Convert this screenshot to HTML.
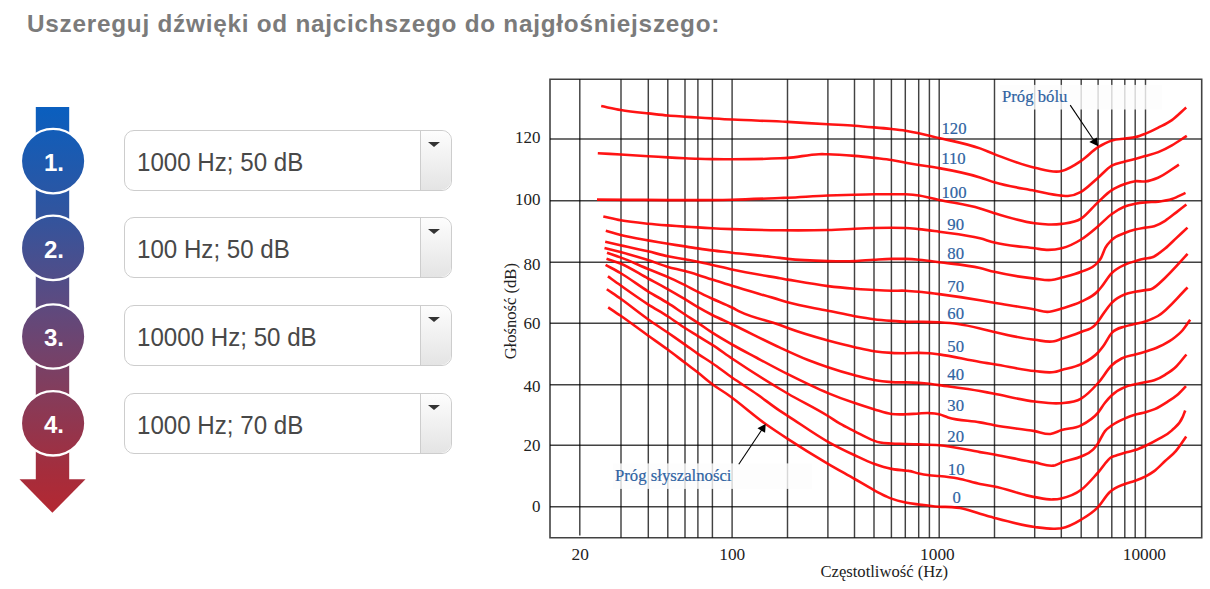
<!DOCTYPE html>
<html><head><meta charset="utf-8">
<style>
html,body{margin:0;padding:0;background:#fff;}
body{width:1210px;height:589px;position:relative;overflow:hidden;font-family:"Liberation Sans",sans-serif;}
.title{position:absolute;left:27px;top:6.5px;font-weight:bold;font-size:24.3px;color:#7b7b7b;letter-spacing:0.76px;white-space:nowrap;line-height:34px;}
.sel{position:absolute;left:124px;width:326px;height:59px;border:1px solid #cdcdcd;border-radius:10px;background:#fff;box-sizing:content-box;}
.sel .lab{position:absolute;left:12px;top:1.8px;line-height:59px;font-size:25.4px;color:#484848;white-space:nowrap;transform:scale(0.95,1);transform-origin:0 50%;}
.sel .btn{position:absolute;right:0;top:0;width:30px;height:59px;border-left:1px solid #cdcdcd;border-radius:0 10px 10px 0;background:linear-gradient(#fdfdfd,#e4e4e4);}
.sel .btn i{position:absolute;left:6.5px;top:11px;width:0;height:0;border-left:6px solid transparent;border-right:6px solid transparent;border-top:5.5px solid #333;}
svg{position:absolute;left:0;top:0;}
</style></head><body>
<div class="title">Uszereguj dźwięki od najcichszego do najgłośniejszego:</div>
<svg width="1210" height="589" viewBox="0 0 1210 589">
<defs><linearGradient id="g" gradientUnits="userSpaceOnUse" x1="0" y1="107" x2="0" y2="513">
<stop offset="0" stop-color="#0a5fbf"/><stop offset="0.25" stop-color="#2f55a0"/><stop offset="0.47" stop-color="#5a4b82"/><stop offset="0.68" stop-color="#803e5f"/><stop offset="0.9" stop-color="#a52d3c"/><stop offset="1" stop-color="#b42832"/>
</linearGradient></defs>
<rect x="35.8" y="107" width="33.4" height="373" fill="url(#g)"/>
<path d="M19.5 479.3H85.5L52.4 512.8Z" fill="url(#g)"/>
<g font-family="Liberation Sans" font-weight="bold" font-size="24" fill="#fff" text-anchor="middle">
<circle cx="53.1" cy="161.1" r="32.2" fill="url(#g)" stroke="#fff" stroke-width="2.3"/>
<text x="54" y="170.9">1.</text>
<circle cx="53.1" cy="247.9" r="32.2" fill="url(#g)" stroke="#fff" stroke-width="2.3"/>
<text x="54" y="257.7">2.</text>
<circle cx="53.1" cy="336.5" r="32.2" fill="url(#g)" stroke="#fff" stroke-width="2.3"/>
<text x="54" y="346.3">3.</text>
<circle cx="53.1" cy="423.3" r="32.2" fill="url(#g)" stroke="#fff" stroke-width="2.3"/>
<text x="54" y="433.1">4.</text>
</g>
<g fill="none" stroke="#000" stroke-opacity="0.74" stroke-width="1.45">
<path d="M579.8 79.2V535.6M621.0 79.2V537.8M648.3 79.2V537.8M667.8 79.2V537.8M685.0 79.2V537.8M697.9 79.2V537.8M712.4 79.2V537.8M732.1 79.2V537.8M787.5 79.2V537.8M827.9 79.2V537.8M854.5 79.2V537.8M874.0 79.2V537.8M891.4 79.2V537.8M905.3 79.2V537.8M918.7 79.2V537.8M929.4 79.2V537.8M939.2 79.2V537.8M994.5 79.2V537.8M1034.7 79.2V537.8M1061.3 79.2V537.8M1081.2 79.2V537.8M1098.1 79.2V537.8M1111.8 79.2V537.8M1124.8 79.2V537.8M1135.2 79.2V537.8M1145.5 79.2V537.8"/>
<path d="M550.0 138.9H1201.7M550.0 200.8H1201.7M550.0 262.2H1201.7M550.0 323.2H1201.7M550.0 384.8H1201.7M550.0 445.2H1201.7M550.0 506.7H1201.7"/>
<path d="M550.0 79.2H1201.7V537.8H550.0Z" stroke-width="1.6"/>
</g>
<rect x="613" y="463.4" width="199" height="25.5" fill="#fcfcfc" fill-opacity="0.8"/>
<rect x="999.9" y="84.9" width="162.2" height="24.6" fill="#fcfcfc" fill-opacity="0.8"/>
<g fill="none" stroke="#ff0000" stroke-opacity="0.92" stroke-width="2.6" stroke-linejoin="round" stroke-linecap="butt">
<path d="M601.2 106.1C607.7 107.4 614.2 108.9 620.7 110.0C629.9 111.5 639.1 112.4 648.3 113.4C654.8 114.1 661.4 114.9 667.9 115.5C673.5 116.0 679.2 116.3 684.8 116.7C689.1 117.0 693.4 117.2 697.7 117.5C702.6 117.8 707.4 118.1 712.3 118.4C719.0 118.8 725.6 119.2 732.3 119.5C750.7 120.5 769.2 120.9 787.6 121.9C801.1 122.6 814.5 123.6 828.0 124.3C836.9 124.8 845.8 125.0 854.7 125.7C861.1 126.2 867.5 126.8 873.9 127.4C879.8 127.9 885.6 128.4 891.5 129.0C896.2 129.5 900.9 130.0 905.6 130.7C910.0 131.4 914.5 132.3 918.9 133.3C922.4 134.1 925.9 135.0 929.4 135.8C932.6 136.6 935.9 137.2 939.1 138.0C952.7 141.2 966.4 143.5 980.0 148.4C984.8 150.1 989.5 152.3 994.3 154.1C1007.8 159.2 1021.2 164.9 1034.7 167.7C1043.7 169.6 1052.6 173.3 1061.6 171.1C1068.1 169.5 1074.6 165.3 1081.1 160.9C1086.8 157.1 1092.4 150.8 1098.1 147.2C1102.7 144.3 1107.4 141.8 1112.0 140.4C1116.4 139.0 1120.7 139.1 1125.1 138.5C1128.6 138.0 1132.1 138.0 1135.6 137.1C1138.9 136.3 1142.3 134.9 1145.6 133.6C1149.8 131.9 1154.1 129.8 1158.3 127.6C1162.8 125.3 1167.4 123.3 1171.9 120.1C1176.7 116.7 1181.4 111.7 1186.2 107.5"/>
<path d="M597.8 153.2C605.4 153.6 613.1 154.0 620.7 154.5C629.9 155.0 639.1 155.6 648.3 156.2C654.8 156.6 661.4 157.0 667.9 157.4C673.5 157.7 679.2 158.0 684.8 158.3C689.1 158.5 693.4 158.7 697.7 158.8C702.6 158.9 707.4 159.0 712.3 159.1C719.0 159.2 725.6 159.3 732.3 159.3C748.2 159.3 764.1 159.1 780.0 158.3C782.5 158.2 785.1 158.1 787.6 157.9C798.1 157.2 808.5 154.5 819.0 154.2C822.0 154.1 825.0 154.2 828.0 154.2C836.9 154.3 845.8 155.1 854.7 155.9C861.1 156.5 867.5 157.2 873.9 157.9C879.8 158.6 885.6 159.1 891.5 160.0C896.2 160.7 900.9 161.8 905.6 162.7C910.0 163.5 914.5 164.3 918.9 165.0C925.6 166.1 932.4 166.9 939.1 168.1C952.7 170.5 966.4 173.1 980.0 177.4C984.8 178.9 989.5 180.8 994.3 182.3C1007.8 186.4 1021.2 188.1 1034.7 190.7C1043.7 192.4 1052.6 194.8 1061.6 195.6C1063.7 195.8 1065.8 196.1 1067.9 196.0C1072.3 195.7 1076.7 194.2 1081.1 191.8C1086.8 188.7 1092.4 182.5 1098.1 177.7C1102.7 173.8 1107.2 168.4 1111.8 165.7C1116.1 163.2 1120.5 162.8 1124.8 161.6C1128.3 160.6 1131.7 159.8 1135.2 158.9C1138.5 158.0 1141.8 157.1 1145.1 156.1C1149.5 154.8 1153.9 153.9 1158.3 152.1C1162.8 150.3 1167.4 147.9 1171.9 145.3C1176.9 142.5 1181.8 139.0 1186.8 135.8"/>
<path d="M597.0 199.6C642.0 199.6 687.0 200.9 732.0 199.7C748.0 199.3 764.0 198.6 780.0 198.0C782.5 197.9 785.1 197.8 787.6 197.7C801.1 197.1 814.5 196.0 828.0 195.5C836.9 195.2 845.8 195.0 854.7 194.8C861.1 194.6 867.5 194.4 873.9 194.3C879.8 194.2 885.6 194.3 891.5 194.3C896.2 194.3 900.9 194.1 905.6 194.3C910.0 194.5 914.5 194.8 918.9 195.5C922.4 196.0 925.9 196.9 929.4 197.7C932.6 198.4 935.9 199.2 939.1 199.9C952.7 202.9 966.4 204.3 980.0 208.4C984.8 209.8 989.5 211.7 994.3 213.2C1007.8 217.4 1021.2 221.6 1034.7 223.3C1039.2 223.9 1043.8 224.4 1048.3 224.5C1052.7 224.6 1057.2 224.5 1061.6 223.9C1068.1 223.0 1074.6 222.9 1081.1 218.7C1086.8 215.0 1092.4 207.3 1098.1 202.1C1102.7 197.9 1107.2 193.2 1111.8 190.2C1116.1 187.3 1120.5 185.6 1124.8 184.0C1128.3 182.7 1131.7 181.6 1135.2 181.2C1138.5 180.8 1141.8 181.9 1145.1 181.5C1149.4 181.0 1153.7 179.5 1158.0 177.7C1165.0 174.8 1171.9 169.0 1178.9 164.6"/>
<path d="M603.3 216.4C609.1 217.7 614.9 219.2 620.7 220.3C629.9 222.0 639.1 222.8 648.3 223.7C654.8 224.4 661.4 224.9 667.9 225.4C673.5 225.8 679.2 226.2 684.8 226.6C689.1 226.9 693.4 227.1 697.7 227.4C702.6 227.7 707.4 228.0 712.3 228.3C719.0 228.7 725.6 228.9 732.3 229.1C748.2 229.7 764.1 230.1 780.0 230.3C796.0 230.5 812.0 230.5 828.0 230.0C836.9 229.7 845.8 229.2 854.7 228.8C861.1 228.5 867.5 228.2 873.9 228.0C879.8 227.8 885.6 227.8 891.5 227.8C896.2 227.8 900.9 227.8 905.6 228.0C910.0 228.2 914.5 228.7 918.9 229.1C925.6 229.8 932.4 230.8 939.1 231.7C952.7 233.6 966.4 234.8 980.0 238.3C984.8 239.5 989.5 241.3 994.3 242.5C1007.8 245.9 1021.2 246.6 1034.7 248.3C1039.2 248.9 1043.8 249.9 1048.3 249.9C1052.7 249.9 1057.2 249.4 1061.6 248.3C1068.1 246.6 1074.6 243.6 1081.1 239.5C1086.8 235.9 1092.4 231.0 1098.1 226.2C1102.7 222.4 1107.2 217.3 1111.8 214.0C1116.1 210.8 1120.5 208.2 1124.8 206.5C1128.3 205.1 1131.7 204.5 1135.2 203.8C1138.5 203.1 1141.8 202.7 1145.1 202.4C1149.5 201.9 1153.9 202.2 1158.3 201.7C1162.8 201.1 1167.4 200.5 1171.9 199.0C1176.4 197.5 1181.0 194.9 1185.5 192.9"/>
<path d="M605.8 230.8C610.8 232.2 615.7 233.8 620.7 235.1C629.8 237.4 638.9 238.8 648.0 240.4C654.7 241.6 661.3 242.7 668.0 243.8C673.7 244.7 679.3 245.5 685.0 246.4C689.3 247.1 693.6 247.8 697.9 248.4C702.7 249.1 707.5 249.8 712.3 250.4C718.9 251.3 725.4 251.9 732.0 252.7C748.0 254.5 764.0 255.8 780.0 257.9C782.5 258.2 785.1 258.6 787.6 258.9C801.1 260.5 814.5 260.8 828.0 261.1C836.9 261.3 845.8 261.5 854.7 261.1C861.1 260.8 867.5 260.1 873.9 259.7C879.8 259.4 885.6 259.0 891.5 258.9C896.2 258.8 900.9 258.8 905.6 258.9C910.0 259.0 914.5 259.3 918.9 259.7C925.6 260.3 932.4 261.3 939.1 262.2C952.7 264.0 966.4 264.8 980.0 268.0C984.8 269.1 989.5 270.7 994.3 271.8C1007.8 275.0 1021.2 277.1 1034.7 278.6C1040.2 279.2 1045.8 280.6 1051.3 280.0C1054.7 279.6 1058.2 278.5 1061.6 277.6C1068.1 275.9 1074.6 274.7 1081.1 271.8C1086.8 269.3 1092.4 269.2 1098.1 262.0C1099.1 260.8 1100.0 259.7 1101.0 258.0C1102.4 255.5 1103.9 250.6 1105.3 247.9C1107.5 243.8 1109.6 242.0 1111.8 239.8C1116.1 235.4 1120.5 234.8 1124.8 233.0C1128.3 231.6 1131.7 230.5 1135.2 229.6C1138.5 228.7 1141.8 228.2 1145.1 227.6C1148.1 227.1 1151.2 227.1 1154.2 226.2C1157.8 225.1 1161.5 223.1 1165.1 220.8C1168.7 218.5 1172.4 215.4 1176.0 212.6C1179.5 209.9 1182.9 207.2 1186.4 204.5"/>
<path d="M605.2 241.8C610.3 242.9 615.3 244.1 620.4 245.2C629.6 247.2 638.8 249.1 648.0 251.3C654.7 252.9 661.3 254.9 668.0 256.3C673.7 257.5 679.3 258.1 685.0 259.2C689.3 260.0 693.6 260.9 697.9 261.8C702.7 262.8 707.5 263.8 712.3 264.9C718.9 266.4 725.4 268.1 732.0 269.5C748.0 273.0 764.0 275.5 780.0 278.3C782.5 278.7 785.1 279.2 787.6 279.6C801.1 281.9 814.5 284.4 828.0 286.1C836.9 287.2 845.8 288.0 854.7 288.7C861.1 289.2 867.5 289.7 873.9 290.0C879.8 290.3 885.6 290.6 891.5 290.7C896.2 290.8 900.9 290.5 905.6 290.7C910.0 290.9 914.5 291.3 918.9 291.7C922.4 292.0 925.9 292.5 929.4 292.9C932.6 293.3 935.9 293.7 939.1 294.1C952.7 295.9 966.4 297.9 980.0 300.2C984.8 301.0 989.5 301.9 994.3 302.7C1007.8 305.0 1021.2 307.0 1034.7 309.5C1038.9 310.3 1043.2 312.0 1047.4 311.9C1052.1 311.8 1056.9 309.9 1061.6 308.5C1068.1 306.6 1074.6 305.0 1081.1 301.7C1086.7 298.9 1092.4 297.1 1098.0 291.0C1099.0 289.9 1100.0 288.7 1101.0 287.5C1104.6 283.2 1108.1 276.8 1111.7 273.1C1116.2 268.5 1120.6 266.7 1125.1 264.6C1128.4 263.1 1131.7 262.2 1135.0 261.2C1138.4 260.2 1141.7 259.3 1145.1 258.6C1147.2 258.2 1149.4 258.3 1151.5 257.6C1156.0 256.2 1160.6 252.3 1165.1 248.6C1168.7 245.6 1172.4 241.8 1176.0 238.4C1179.8 234.8 1183.7 231.2 1187.5 227.6"/>
<path d="M604.5 247.9C609.8 249.3 615.1 250.6 620.4 252.0C629.6 254.5 638.8 257.2 648.0 260.1C654.7 262.2 661.3 265.0 668.0 266.9C673.7 268.5 679.3 269.5 685.0 271.1C689.3 272.3 693.6 273.6 697.9 274.9C702.7 276.4 707.5 278.1 712.3 279.6C718.9 281.7 725.4 283.8 732.0 285.8C748.0 290.7 764.0 295.2 780.0 300.0C782.5 300.8 785.1 301.6 787.6 302.3C801.1 306.2 814.5 307.9 828.0 310.7C836.9 312.5 845.8 314.6 854.7 316.2C861.1 317.3 867.5 318.4 873.9 319.2C879.8 319.9 885.6 320.4 891.5 320.9C896.2 321.3 900.9 321.7 905.6 321.8C910.0 321.9 914.5 321.8 918.9 321.8C925.6 321.9 932.4 321.9 939.1 322.3C945.4 322.7 951.7 323.1 958.0 324.0C965.3 325.0 972.7 326.7 980.0 328.4C984.8 329.5 989.5 330.9 994.3 332.0C1007.8 335.2 1021.2 338.3 1034.7 339.8C1041.2 340.5 1047.7 342.6 1054.2 341.2C1056.7 340.7 1059.1 339.6 1061.6 338.8C1068.1 336.6 1074.6 334.8 1081.1 332.0C1085.7 330.0 1090.4 330.1 1095.0 325.1C1096.0 324.0 1097.0 322.8 1098.0 321.5C1099.0 320.2 1100.0 318.6 1101.0 317.2C1104.6 312.2 1108.1 306.5 1111.7 302.8C1116.2 298.2 1120.6 296.2 1125.1 294.3C1128.4 292.9 1131.7 292.5 1135.0 291.8C1138.4 291.1 1141.8 290.6 1145.2 290.1C1147.2 289.8 1149.1 289.9 1151.1 289.2C1155.6 287.6 1160.2 282.3 1164.7 278.2C1172.3 271.3 1180.0 262.0 1187.6 253.9"/>
<path d="M607.0 252.7C611.5 254.3 615.9 255.7 620.4 257.4C629.6 260.8 638.8 265.2 648.0 269.0C654.7 271.7 661.3 274.1 668.0 277.1C673.7 279.6 679.3 282.4 685.0 285.2C689.3 287.4 693.6 289.8 697.9 291.9C702.7 294.3 707.5 296.5 712.3 298.7C718.9 301.7 725.4 304.2 732.0 307.5C734.6 308.8 737.2 310.3 739.8 311.6C753.2 318.2 766.6 320.0 780.0 325.0C782.6 326.0 785.2 327.0 787.8 328.0C801.2 333.0 814.6 336.8 828.0 340.5C836.9 342.9 845.8 345.2 854.7 347.2C861.1 348.6 867.5 350.2 873.9 351.2C879.8 352.1 885.6 352.6 891.5 352.9C896.2 353.2 900.9 353.2 905.6 353.2C910.0 353.2 914.5 352.9 918.9 352.9C922.4 352.9 925.9 352.9 929.4 353.2C932.6 353.5 935.9 354.0 939.1 354.4C952.7 356.2 966.4 359.8 980.0 362.0C984.8 362.8 989.5 363.4 994.3 364.2C1007.8 366.3 1021.2 369.8 1034.7 371.0C1041.2 371.6 1047.7 373.2 1054.2 372.0C1056.7 371.6 1059.1 370.7 1061.6 370.0C1068.1 368.2 1074.6 367.5 1081.1 364.2C1086.8 361.3 1092.4 358.7 1098.1 352.5C1099.7 350.7 1101.4 348.8 1103.0 346.6C1105.9 342.7 1108.8 336.3 1111.7 333.0C1116.2 327.9 1120.6 328.0 1125.1 326.4C1128.4 325.2 1131.7 324.8 1135.0 324.0C1138.4 323.2 1141.8 322.5 1145.2 321.4C1149.4 320.0 1153.7 318.5 1157.9 316.0C1167.8 310.2 1177.7 297.0 1187.6 287.5"/>
<path d="M606.5 258.8C611.1 260.4 615.8 261.6 620.4 263.5C629.6 267.2 638.8 273.5 648.0 278.5C654.7 282.1 661.3 285.5 668.0 289.3C673.7 292.5 679.3 295.8 685.0 299.2C689.3 301.8 693.6 304.7 697.9 307.2C702.7 310.0 707.5 312.6 712.3 315.0C718.9 318.3 725.4 321.1 732.0 324.2C748.0 331.8 764.0 340.3 780.0 347.6C789.3 351.9 798.7 356.3 808.0 360.0C814.7 362.6 821.3 365.0 828.0 367.2C836.9 370.2 845.8 372.9 854.7 375.3C861.1 377.0 867.5 378.9 873.9 380.0C879.8 381.1 885.6 381.7 891.5 382.1C896.2 382.4 900.9 382.3 905.6 382.4C910.0 382.5 914.5 382.6 918.9 382.9C922.4 383.1 925.9 383.4 929.4 383.8C932.6 384.2 935.9 384.7 939.1 385.1C952.7 387.0 966.4 388.5 980.0 391.0C984.8 391.9 989.5 392.9 994.3 393.8C1007.8 396.4 1021.2 400.0 1034.7 401.5C1043.1 402.5 1051.6 403.9 1060.0 403.2C1067.0 402.6 1074.1 402.9 1081.1 398.6C1086.8 395.2 1092.4 389.4 1098.1 383.0C1102.7 377.9 1107.2 369.6 1111.8 365.3C1115.1 362.2 1118.3 360.2 1121.6 358.5C1126.1 356.1 1130.7 355.8 1135.2 354.5C1138.5 353.6 1141.8 352.7 1145.1 351.7C1149.5 350.3 1153.9 349.0 1158.3 347.0C1162.8 344.9 1167.4 342.8 1171.9 339.5C1175.5 336.9 1179.2 334.3 1182.8 330.0C1185.3 327.1 1187.7 323.2 1190.2 319.8"/>
<path d="M605.6 264.9C610.5 267.6 615.5 270.1 620.4 273.0C629.6 278.4 638.8 285.6 648.0 291.3C654.7 295.5 661.3 299.0 668.0 303.2C673.7 306.8 679.3 310.8 685.0 314.5C689.3 317.3 693.6 319.9 697.9 322.8C702.7 326.0 707.5 329.6 712.3 332.7C718.9 337.0 725.4 340.7 732.0 344.5C740.4 349.3 748.7 353.5 757.1 358.0C767.3 363.5 777.6 369.1 787.8 374.2C801.2 380.9 814.6 387.6 828.0 393.1C836.9 396.8 845.8 400.1 854.7 403.1C861.1 405.3 867.5 407.3 873.9 409.2C879.8 410.9 885.6 413.2 891.5 414.0C896.2 414.6 900.9 414.4 905.6 414.3C910.0 414.2 914.5 413.7 918.9 413.5C922.4 413.3 925.9 412.9 929.4 413.1C932.6 413.2 935.9 413.5 939.1 414.3C942.1 415.0 945.0 416.5 948.0 417.4C958.7 420.7 969.3 420.4 980.0 422.4C984.8 423.3 989.5 424.4 994.3 425.3C1007.8 427.8 1021.2 428.8 1034.7 431.1C1039.9 432.0 1045.1 434.6 1050.3 434.0C1054.1 433.5 1057.8 431.3 1061.6 430.1C1068.1 428.1 1074.6 428.6 1081.1 425.3C1086.8 422.4 1092.4 419.5 1098.1 412.6C1100.4 409.8 1102.7 405.7 1105.0 402.8C1107.3 399.9 1109.5 397.3 1111.8 395.2C1116.1 391.1 1120.5 388.9 1124.8 387.1C1128.3 385.6 1131.7 385.1 1135.2 384.3C1138.5 383.5 1141.8 383.0 1145.1 382.3C1148.1 381.7 1151.2 381.4 1154.2 380.3C1157.8 379.0 1161.5 377.1 1165.1 374.8C1168.7 372.5 1172.4 370.2 1176.0 366.7C1179.5 363.4 1182.9 358.6 1186.4 354.5"/>
<path d="M607.9 276.4C612.1 279.4 616.2 282.4 620.4 285.3C629.6 291.8 638.8 298.4 648.0 304.3C654.7 308.6 661.3 312.2 668.0 316.5C673.7 320.2 679.3 324.3 685.0 328.0C689.3 330.8 693.6 333.4 697.9 336.1C702.7 339.1 707.5 341.8 712.3 344.9C718.9 349.1 725.4 354.1 732.0 358.5C748.0 369.3 764.0 379.4 780.0 389.0C782.5 390.5 785.1 392.0 787.6 393.5C801.1 401.4 814.5 407.6 828.0 416.0C832.0 418.5 836.0 421.4 840.0 423.7C844.9 426.6 849.8 428.8 854.7 431.3C861.1 434.5 867.5 438.3 873.9 440.6C876.0 441.4 878.1 442.1 880.2 442.6C884.0 443.5 887.7 443.3 891.5 443.5C896.2 443.8 900.9 443.8 905.6 444.0C910.0 444.1 914.5 444.2 918.9 444.4C925.6 444.6 932.4 444.6 939.1 445.2C952.7 446.3 966.4 449.8 980.0 452.1C984.8 452.9 989.5 453.7 994.3 454.5C1007.8 456.9 1021.2 460.2 1034.7 462.4C1041.5 463.5 1048.4 467.4 1055.2 465.3C1057.3 464.6 1059.5 463.3 1061.6 462.4C1068.1 459.7 1074.6 459.6 1081.1 456.5C1085.1 454.6 1089.0 453.8 1093.0 449.7C1094.4 448.3 1095.7 446.7 1097.1 444.8C1099.7 441.2 1102.4 434.4 1105.0 431.1C1107.3 428.2 1109.7 427.0 1112.0 425.3C1116.3 422.2 1120.7 420.3 1125.0 418.4C1128.5 416.8 1132.1 415.5 1135.6 414.5C1138.9 413.5 1142.3 413.2 1145.6 412.2C1148.6 411.3 1151.7 410.4 1154.7 409.1C1158.9 407.2 1163.2 404.5 1167.4 401.8C1170.7 399.7 1173.9 397.8 1177.2 395.0C1180.1 392.5 1183.1 389.1 1186.0 386.1"/>
<path d="M606.8 289.2C611.4 292.4 616.1 295.5 620.7 298.8C629.8 305.3 638.9 312.8 648.0 319.2C654.7 323.9 661.3 328.2 668.0 332.8C673.7 336.7 679.3 340.6 685.0 344.6C689.3 347.6 693.6 350.9 697.9 353.8C702.7 357.1 707.5 359.9 712.3 363.2C718.9 367.7 725.4 372.9 732.0 377.5C740.5 383.4 748.9 388.6 757.4 394.5C764.9 399.8 772.5 405.9 780.0 410.9C782.6 412.6 785.1 414.2 787.7 415.8C801.1 424.4 814.6 434.3 828.0 441.8C836.9 446.8 845.8 451.1 854.7 455.3C861.1 458.3 867.5 461.5 873.9 463.8C879.8 465.9 885.6 467.8 891.5 468.9C896.2 469.8 900.9 470.2 905.6 470.6C906.7 470.7 907.9 470.7 909.0 470.9C912.3 471.3 915.6 472.9 918.9 473.6C922.4 474.4 925.9 474.9 929.4 475.3C932.6 475.7 935.9 475.7 939.1 476.0C945.4 476.6 951.7 477.3 958.0 478.5C965.3 479.9 972.7 482.5 980.0 484.0C984.8 485.0 989.6 485.6 994.4 486.6C1007.8 489.3 1021.3 494.8 1034.7 497.1C1040.8 498.1 1046.9 499.7 1053.0 499.4C1055.8 499.3 1058.5 499.0 1061.3 498.4C1067.9 497.0 1074.6 494.8 1081.2 489.8C1086.8 485.6 1092.5 478.6 1098.1 472.5C1102.7 467.5 1107.2 459.3 1111.8 456.9C1113.3 456.1 1114.7 456.0 1116.2 455.5C1119.1 454.6 1121.9 453.6 1124.8 452.8C1128.3 451.8 1131.7 451.3 1135.2 450.1C1138.5 449.0 1141.8 447.5 1145.1 446.0C1149.5 444.0 1153.9 441.8 1158.3 439.2C1162.8 436.6 1167.4 434.8 1171.9 430.4C1175.5 426.8 1179.2 425.4 1182.8 416.8C1183.6 414.9 1184.4 412.6 1185.2 410.5"/>
<path d="M608.2 307.4C612.4 310.2 616.5 312.9 620.7 315.8C629.8 322.1 638.9 329.0 648.0 335.5C654.7 340.3 661.3 344.9 668.0 349.8C673.7 354.0 679.3 358.4 685.0 362.7C689.3 366.0 693.6 369.2 697.9 372.6C702.7 376.4 707.5 380.7 712.3 384.3C717.4 388.1 722.5 390.9 727.6 394.5C740.3 403.3 752.9 415.0 765.6 424.0C773.0 429.2 780.3 434.0 787.7 438.8C801.1 447.6 814.6 455.9 828.0 463.8C836.9 469.0 845.8 473.9 854.7 479.0C861.1 482.7 867.5 486.6 873.9 490.1C877.7 492.2 881.5 494.3 885.3 496.0C887.4 496.9 889.4 497.8 891.5 498.6C896.2 500.4 900.9 501.5 905.6 502.5C910.0 503.4 914.5 503.9 918.9 504.5C922.4 505.0 925.9 505.3 929.4 505.7C932.6 506.1 935.9 506.5 939.1 506.7C943.2 507.0 947.4 506.8 951.5 507.1C954.3 507.3 957.2 507.5 960.0 508.0C966.7 509.1 973.3 511.9 980.0 513.8C984.8 515.2 989.6 516.6 994.4 517.9C1007.8 521.5 1021.3 525.2 1034.7 527.0C1041.5 527.9 1048.2 529.0 1055.0 528.7C1057.1 528.6 1059.2 528.5 1061.3 528.2C1067.9 527.1 1074.6 523.6 1081.2 519.6C1086.8 516.3 1092.4 513.1 1098.0 507.2C1101.9 503.1 1105.7 496.0 1109.6 492.3C1114.7 487.4 1119.7 486.1 1124.8 484.0C1128.3 482.6 1131.7 482.0 1135.2 480.7C1138.5 479.5 1141.8 478.3 1145.1 476.6C1148.1 475.0 1151.2 473.4 1154.2 471.1C1157.8 468.4 1161.5 464.4 1165.1 461.0C1168.7 457.6 1172.4 455.1 1176.0 450.8C1179.4 446.8 1182.8 441.3 1186.2 436.5"/>
</g>
<g stroke="#000" stroke-width="1.1" fill="none">
<path d="M738.8 464.2L762 429.5"/>
<path d="M1070.2 105.1L1094 140.5"/>
</g>
<g fill="#000">
<path d="M765.7 423.9L757.5 428.2L765.1 432.8Z"/>
<path d="M1098.2 146.3L1089.3 142L1096.9 137.4Z"/>
</g>
<g font-family="Liberation Serif" font-size="17.6" fill="#2f63a2" stroke="#2f63a2" stroke-width="0.2">
<g text-anchor="middle"><text transform="translate(954.0 134.1) scale(0.95 1)">120</text>
<text transform="translate(953.5 164.3) scale(0.95 1)">110</text>
<text transform="translate(954.0 197.5) scale(0.95 1)">100</text>
<text transform="translate(955.7 229.6) scale(0.95 1)">90</text>
<text transform="translate(955.7 259.0) scale(0.95 1)">80</text>
<text transform="translate(955.7 292.1) scale(0.95 1)">70</text>
<text transform="translate(955.7 319.3) scale(0.95 1)">60</text>
<text transform="translate(955.7 352.4) scale(0.95 1)">50</text>
<text transform="translate(955.7 380.1) scale(0.95 1)">40</text>
<text transform="translate(955.7 411.0) scale(0.95 1)">30</text>
<text transform="translate(955.7 442.1) scale(0.95 1)">20</text>
<text transform="translate(956.2 474.9) scale(0.95 1)">10</text>
<text transform="translate(956.6 503.3) scale(0.95 1)">0</text></g>
<text transform="translate(1002 101.8) scale(0.95 1)">Próg bólu</text>
<text transform="translate(615 481) scale(0.95 1)">Próg słyszalności</text>
</g>
<g font-family="Liberation Serif" font-size="17.3" fill="#222">
<g text-anchor="end"><text transform="translate(540.5 143.1) scale(0.98 1)">120</text>
<text transform="translate(540.5 205.4) scale(0.98 1)">100</text>
<text transform="translate(540.5 270.0) scale(0.98 1)">80</text>
<text transform="translate(540.5 329.0) scale(0.98 1)">60</text>
<text transform="translate(540.5 391.8) scale(0.98 1)">40</text>
<text transform="translate(540.5 451.0) scale(0.98 1)">20</text>
<text transform="translate(540.5 511.7) scale(0.98 1)">0</text></g>
<g text-anchor="middle"><text x="580.2" y="559.8">20</text>
<text x="732.2" y="559.8">100</text>
<text x="937.4" y="559.8">1000</text>
<text x="1144.4" y="559.8">10000</text></g>
<text x="884.3" y="577.2" text-anchor="middle" font-size="16.6">Częstotliwość (Hz)</text>
<text transform="translate(515.9 311.2) rotate(-90)" font-size="16.6" text-anchor="middle">Głośność (dB)</text>
</g>
</svg>
<div class="sel" style="top:130px"><span class="lab">1000 Hz; 50 dB</span><div class="btn"><i></i></div></div>
<div class="sel" style="top:217px"><span class="lab">100 Hz; 50 dB</span><div class="btn"><i></i></div></div>
<div class="sel" style="top:305px"><span class="lab">10000 Hz; 50 dB</span><div class="btn"><i></i></div></div>
<div class="sel" style="top:393px"><span class="lab">1000 Hz; 70 dB</span><div class="btn"><i></i></div></div>

</body></html>
